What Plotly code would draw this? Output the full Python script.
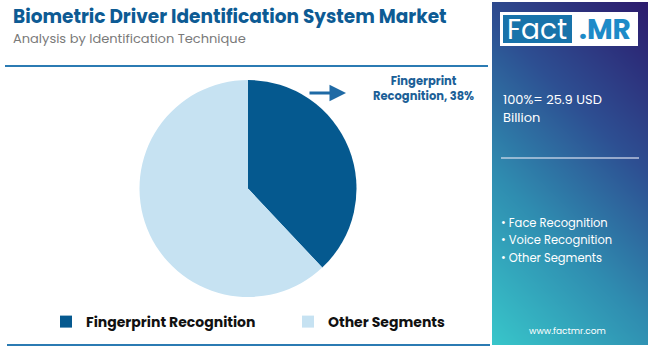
import plotly.graph_objects as go
import numpy as np

W, H = 650, 347

segments = ["Fingerprint Recognition", "Other Segments"]
shares = [38, 62]
colors = ["#05598f", "#c6e2f2"]

title = "Biometric Driver Identification System Market"
subtitle = "Analysis by Identification Technique"
total_text = ["100%= 25.9 USD", "Billion"]
other_list = ["Face Recognition", "Voice Recognition", "Other Segments"]

def px(x):
    return x / W

def py(y):
    return 1 - y / H

fig = go.Figure()

# Right panel gradient (diagonal) as heatmap on its own axes
nx, ny = 40, 80
gx = np.linspace(0, 1, nx)
gy = np.linspace(0, 1, ny)
GX, GY = np.meshgrid(gx, gy)
Z = (GX * 0.45 + GY * 1.0) / 1.45
fig.add_trace(go.Heatmap(
    z=Z, x=gx, y=gy, xaxis="x2", yaxis="y2", showscale=False, hoverinfo="skip",
    colorscale=[[0, "#38c6ca"], [0.35, "#2f8cb0"], [0.65, "#2d4f92"], [1, "#2c1a6c"]],
    zsmooth="best", showlegend=False,
))

fig.add_trace(go.Pie(
    labels=segments, values=shares, sort=False, direction="clockwise", rotation=0,
    marker=dict(colors=colors, line=dict(width=0)), textinfo="none",
    domain=dict(x=[px(139), px(357)], y=[py(297), py(80)]),
    hoverinfo="label+percent", showlegend=True,
))

shapes = [
    dict(type="line", xref="paper", yref="paper", x0=px(5), x1=px(488), y0=py(66), y1=py(66),
         line=dict(color="#2b7bb3", width=2)),
    dict(type="line", xref="paper", yref="paper", x0=px(7), x1=px(490), y0=py(345), y1=py(345),
         line=dict(color="#2b7bb3", width=2)),
    # logo
    dict(type="rect", xref="paper", yref="paper", x0=px(500), x1=px(638), y0=py(46), y1=py(12),
         fillcolor="white", line=dict(width=0)),
    dict(type="rect", xref="paper", yref="paper", x0=px(503), x1=px(572), y0=py(43), y1=py(15),
         fillcolor="#1873aa", line=dict(width=0)),
    # separator in panel
    dict(type="line", xref="paper", yref="paper", x0=px(501), x1=px(639), y0=py(158), y1=py(158),
         line=dict(color="rgba(220,225,240,0.8)", width=1.5)),
]

FONT = "Poppins, Inter, 'Open Sans', sans-serif"
ann = [
    dict(text=f"<b>{title}</b>", x=px(11), y=py(17), xanchor="left", yanchor="middle",
         font=dict(size=18.5, color="#0d5b94", family=FONT)),
    dict(text=subtitle, x=px(11), y=py(38), xanchor="left", yanchor="middle",
         font=dict(size=13, color="#7a7a7a", family=FONT)),
    dict(text="<b>Fingerprint<br>Recognition, 38%</b>", x=px(424), y=py(88), xanchor="center",
         yanchor="middle", font=dict(size=11.5, color="#1c5f97", family=FONT)),
    dict(text="Fact", x=px(537), y=py(29), xanchor="center", yanchor="middle",
         font=dict(size=28, color="white", family=FONT)),
    dict(text="<b>.MR</b>", x=px(605), y=py(29), xanchor="center", yanchor="middle",
         font=dict(size=28, color="#1d8bc8", family=FONT)),
    dict(text="www.factmr.com", x=px(567), y=py(331), xanchor="center", yanchor="middle",
         font=dict(size=9, color="white", family=FONT)),
]
for i, t in enumerate(total_text):
    ann.append(dict(text=t, x=px(501), y=py(99 + 19 * i), xanchor="left", yanchor="middle",
                    font=dict(size=13, color="white", family=FONT)))
for i, t in enumerate(other_list):
    ann.append(dict(text="• " + t, x=px(499), y=py(223 + 17.5 * i), xanchor="left",
                    yanchor="middle", font=dict(size=11.5, color="white", family=FONT)))
for a in ann:
    a.update(xref="paper", yref="paper", showarrow=False)

# arrow
ann.append(dict(x=px(346), y=py(93), ax=-38, ay=0, xref="paper", yref="paper",
                axref="pixel", ayref="pixel", showarrow=True, arrowhead=2, arrowsize=1.1,
                arrowwidth=3, arrowcolor="#1f6aa5", text=""))

fig.update_layout(
    width=W, height=H, margin=dict(l=0, r=0, t=0, b=0),
    paper_bgcolor="white", plot_bgcolor="white",
    shapes=shapes, annotations=ann,
    xaxis2=dict(domain=[px(492), px(648)], visible=False, range=[0, 1], fixedrange=True),
    yaxis2=dict(domain=[py(345), py(2)], visible=False, range=[0, 1], fixedrange=True),
    legend=dict(orientation="h", x=px(46), y=py(322), xanchor="left", yanchor="middle",
                bgcolor="rgba(0,0,0,0)", itemwidth=30,
                font=dict(size=14, color="#111", family=FONT, weight="bold"), entrywidth=197,
                itemclick=False, itemdoubleclick=False, traceorder="normal"),
)

fig.write_html("out.html")
